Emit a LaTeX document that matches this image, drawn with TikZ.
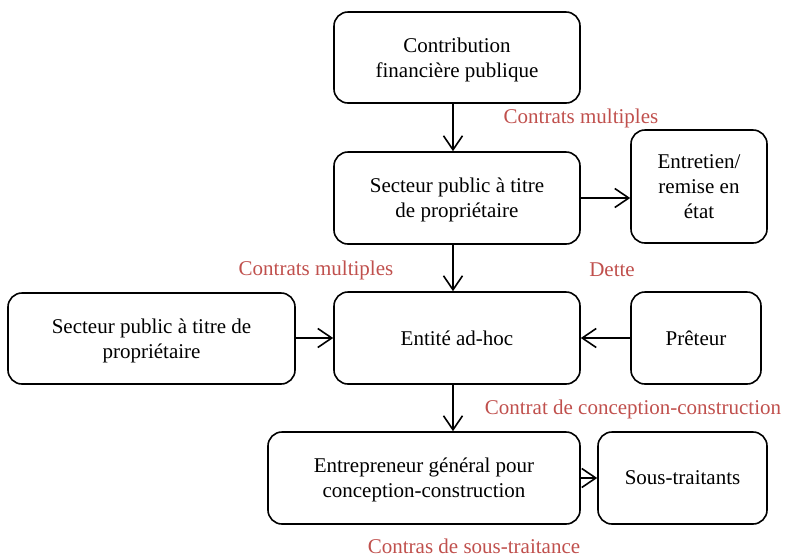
\documentclass[tikz,border=0pt]{standalone}
\usepackage{fontspec}
\setmainfont{Liberation Serif}
\usetikzlibrary{arrows.meta}
\definecolor{lblred}{HTML}{C0504D}
\begin{document}
\begin{tikzpicture}[x=1pt,y=-1pt,
  box/.style={draw,line width=1.6pt,rounded corners=14pt,align=center,
    font=\fontsize{21}{25}\selectfont,inner sep=0pt},
  multi/.style={text depth=0pt},
  lbl/.style={text=lblred,font=\fontsize{21}{25}\selectfont,inner sep=0pt},
  flow/.style={line width=1.6pt,-{Straight Barb[length=14pt,width=19pt,line width=1.6pt]}}]
\useasboundingbox (0,0) rectangle (785,558);

% boxes
\node[box,multi,minimum width=246pt,minimum height=91pt] (fin) at (457,57.5) {Contribution\\financière publique};
\node[box,multi,minimum width=246pt,minimum height=92pt] (own) at (457,198) {Secteur public à titre\\de propriétaire};
\node[box,multi,minimum width=136pt,minimum height=113pt] (ent) at (699,186.5) {Entretien/\\remise en\\état};
\node[box,minimum width=246pt,minimum height=92pt] (spv) at (457,338) {Entité ad-hoc};
\node[box,multi,minimum width=287pt,minimum height=91pt] (own2) at (151.5,338.5) {Secteur public à titre de\\propriétaire};
\node[box,minimum width=130pt,minimum height=92pt] (lend) at (696,338) {Prêteur};
\node[box,multi,minimum width=312pt,minimum height=92pt] (gc) at (424,478) {Entrepreneur général pour\\conception-construction};
\node[box,minimum width=169pt,minimum height=92pt] (sub) at (682.5,478) {Sous-traitants};

% connectors
\draw[flow] ([xshift=-4pt]fin.south) -- ([xshift=-4pt]own.north);
\draw[flow] (own.east) -- (own.east -| ent.west);
\draw[flow] ([xshift=-4pt]own.south) -- ([xshift=-4pt]spv.north);
\draw[flow] (own2.east |- spv.west) -- (spv.west);
\draw[flow] (lend.west) -- (spv.east);
\draw[flow] ([xshift=-4pt]spv.south) -- ([xshift=-4pt]spv.south |- gc.north);
\draw[flow] (gc.east) -- (sub.west);

% labels
\node[lbl] (l1) at (581,118) {Contrats multiples};
\node[lbl] (l2) at (316,270) {Contrats multiples};
\node[lbl] (l3) at (612,270) {Dette};
\node[lbl] (l4) at (633,409) {Contrat de conception-construction};
\node[lbl] (l5) at (474,546) {Contras de sous-traitance};
\end{tikzpicture}
\end{document}
